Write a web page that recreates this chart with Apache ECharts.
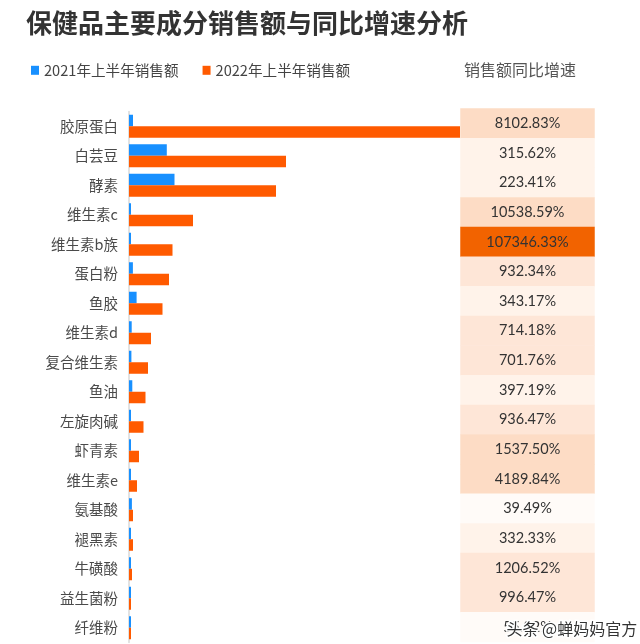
<!DOCTYPE html>
<html><head><meta charset="utf-8">
<script src="https://cdn.jsdelivr.net/npm/echarts@6/dist/echarts.min.js"></script>
<style>html,body{margin:0;padding:0;background:#fff}#c{width:640px;height:644px}</style>
</head><body><div id="c"></div>
<script>
const categories = ['胶原蛋白','白芸豆','酵素','维生素c','维生素b族','蛋白粉','鱼胶','维生素d','复合维生素','鱼油','左旋肉碱','虾青素','维生素e','氨基酸','褪黑素','牛磺酸','益生菌粉','纤维粉'];
const sales2021 = [0.40,3.78,4.55,0.06,0.004,0.39,0.76,0.27,0.24,0.33,0.14,0.06,0.019,0.29,0.09,0.023,0.018,0.13];
const sales2022 = [33.1,15.7,14.7,6.4,4.35,4.0,3.35,2.2,1.9,1.65,1.45,1.0,0.8,0.4,0.4,0.3,0.2,0.2];
const growth = [8102.83,315.62,223.41,10538.59,107346.33,932.34,343.17,714.18,701.76,397.19,936.47,1537.50,4189.84,39.49,332.33,1206.52,996.47,55.82];
const legendNames = ['2021年上半年销售额','2022年上半年销售额'];
const tableHeader = '销售额同比增速';

const cjk = '"Noto Sans CJK SC", "Noto Sans", sans-serif';
const chart = echarts.init(document.getElementById('c'), null, {renderer:'canvas'});
chart.setOption({
  animation:false,
  backgroundColor:'#fff',
  title:{text:'保健品主要成分销售额与同比增速分析', left:26, top:10, padding:0,
    textStyle:{fontSize:26, fontWeight:'bold', color:'#333', fontFamily:cjk}},
  legend:{left:31, top:63, padding:0, icon:'rect', itemWidth:8, itemHeight:9, itemGap:24,
    data:legendNames, textStyle:{fontSize:14.6, color:'#444', fontFamily:cjk}},
  graphic:[
    {type:'text', left:464, top:62, style:{text:tableHeader, font:'16px "Noto Sans CJK SC"', fill:'#555'}},
    {type:'text', left:505, top:619, z:100, style:{text:'头条 @蝉妈妈官方', font:'16px "Noto Sans CJK SC"', fill:'#333', stroke:'#fff', lineWidth:3}}
  ],
  grid:[
    {left:129, width:331, top:111.5, height:531},
    {left:460.5, width:134, top:108.5, height:533.5}
  ],
  xAxis:[
    {gridIndex:0, type:'value', min:0, max:33.1, show:false},
    {gridIndex:1, type:'category', data:['增速'], show:false}
  ],
  yAxis:[
    {gridIndex:0, type:'category', data:categories, inverse:true,
     axisLine:{lineStyle:{color:'#d9d9d9', width:1.5}}, axisTick:{show:false},
     axisLabel:{fontSize:14.5, color:'#4a4a4a', margin:11, fontFamily:cjk}},
    {gridIndex:1, type:'category', data:categories, inverse:true, show:false}
  ],
  visualMap:{type:'piecewise', show:false, seriesIndex:2, dimension:2,
    pieces:[
      {min:0, lt:100, color:'#fffbf8'},
      {gte:100, lt:500, color:'#fff3ea'},
      {gte:500, lt:1500, color:'#fee6d7'},
      {gte:1500, lt:50000, color:'#fddcc5'},
      {gte:50000, color:'#f26300'}
    ]},
  series:[
    {name:legendNames[0], type:'bar', xAxisIndex:0, yAxisIndex:0, data:sales2021,
     barGap:'0%', barCategoryGap:'22%', barMinHeight:2, itemStyle:{color:'#1890ff'}},
    {name:legendNames[1], type:'bar', xAxisIndex:0, yAxisIndex:0, data:sales2022,
     barGap:'0%', barCategoryGap:'22%', barMinHeight:2, itemStyle:{color:'#ff5a00'}},
    {type:'heatmap', xAxisIndex:1, yAxisIndex:1,
     data:growth.map((g,i)=>[0,i,g]),
     label:{show:true, fontSize:14.5, color:'#333', fontFamily:'Lato, "Open Sans", sans-serif',
       formatter:p=>p.value[2].toFixed(2)+'%'},
     emphasis:{disabled:true}}
  ]
});
</script></body></html>
